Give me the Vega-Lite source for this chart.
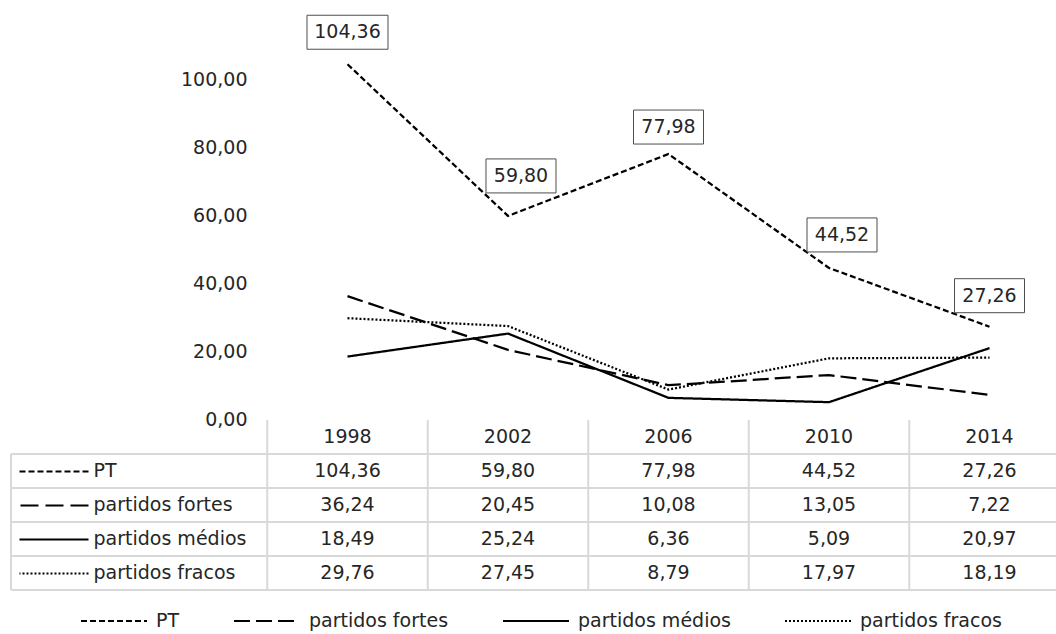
{
  "$schema": "https://vega.github.io/schema/vega-lite/v6.json",
  "padding": {"left": 10, "top": 11, "right": 0, "bottom": 0},
  "bounds": "flush",
  "spacing": 0,
  "config": {
    "locale": {"number": {"decimal": ",", "thousands": ".", "grouping": [3], "currency": ["", ""]}},
    "font": "DejaVu Sans",
    "view": {"stroke": null},
    "text": {"font": "DejaVu Sans", "fontSize": 19, "color": "#262626"},
    "axis": {"labelFont": "DejaVu Sans", "labelFontSize": 19, "labelColor": "#262626"}
  },
  "datasets": {
    "series": [
      {"series": "PT", "year": 1998, "value": 104.36},
      {"series": "PT", "year": 2002, "value": 59.80},
      {"series": "PT", "year": 2006, "value": 77.98},
      {"series": "PT", "year": 2010, "value": 44.52},
      {"series": "PT", "year": 2014, "value": 27.26},
      {"series": "partidos fortes", "year": 1998, "value": 36.24},
      {"series": "partidos fortes", "year": 2002, "value": 20.45},
      {"series": "partidos fortes", "year": 2006, "value": 10.08},
      {"series": "partidos fortes", "year": 2010, "value": 13.05},
      {"series": "partidos fortes", "year": 2014, "value": 7.22},
      {"series": "partidos médios", "year": 1998, "value": 18.49},
      {"series": "partidos médios", "year": 2002, "value": 25.24},
      {"series": "partidos médios", "year": 2006, "value": 6.36},
      {"series": "partidos médios", "year": 2010, "value": 5.09},
      {"series": "partidos médios", "year": 2014, "value": 20.97},
      {"series": "partidos fracos", "year": 1998, "value": 29.76},
      {"series": "partidos fracos", "year": 2002, "value": 27.45},
      {"series": "partidos fracos", "year": 2006, "value": 8.79},
      {"series": "partidos fracos", "year": 2010, "value": 17.97},
      {"series": "partidos fracos", "year": 2014, "value": 18.19}
    ],
    "grid": [{"value": 20}, {"value": 40}, {"value": 60}, {"value": 80}, {"value": 100}],
    "years": [{"year": 1998}, {"year": 2002}, {"year": 2006}, {"year": 2010}, {"year": 2014}],
    "names": [{"series": "PT"}, {"series": "partidos fortes"}, {"series": "partidos médios"}, {"series": "partidos fracos"}],
    "colbounds": [{"year": 1996}, {"year": 2000}, {"year": 2004}, {"year": 2008}, {"year": 2012}]
  },
  "resolve": {"scale": {"strokeDash": "shared"}, "legend": {"strokeDash": "shared"}},
  "vconcat": [
    {
      "width": 1045,
      "height": 408.5,
      "encoding": {
        "x": {"field": "year", "type": "quantitative", "scale": {"domain": [1989.614, 2015.657], "nice": false, "zero": false}, "axis": null},
        "y": {"field": "value", "type": "quantitative", "scale": {"domain": [0, 120], "nice": false},
              "axis": {"values": [0, 20, 40, 60, 80, 100], "format": ".2f", "offset": -256, "labelPadding": 20, "ticks": false, "domain": false, "grid": false, "title": null}}
      },
      "layer": [
        {"data": {"name": "grid"}, "mark": {"type": "rule", "color": "#d9d9d9", "strokeWidth": 1.5},
         "encoding": {"x": {"datum": 1996}, "x2": {"value": "width"}}},
        {"data": {"name": "series"}, "mark": {"type": "line", "color": "black", "strokeWidth": 2.25},
         "encoding": {"strokeDash": {"field": "series", "type": "nominal",
           "scale": {"domain": ["PT", "partidos fortes", "partidos médios", "partidos fracos"], "range": [[6, 3], [16, 6], [1, 0], [2, 2]]},
           "legend": {"orient": "none", "legendX": 69, "legendY": 576, "direction": "horizontal", "title": null, "symbolType": "stroke", "symbolSize": 4356, "symbolStrokeWidth": 2, "symbolStrokeColor": "black", "labelFontSize": 19, "labelFont": "DejaVu Sans", "labelColor": "#262626", "labelOffset": 8, "columnPadding": 50, "labelLimit": 0}}}},
        {"data": {"name": "series"}, "transform": [{"filter": "datum.series === 'PT'"}],
         "mark": {"type": "point", "size": 10000, "filled": true, "fill": "white", "stroke": "#4d4d4d", "strokeWidth": 1, "opacity": 1},
         "encoding": {"shape": {"field": "year", "type": "nominal", "legend": null,
           "scale": {"domain": [1998, 2002, 2006, 2010, 2014],
                     "range": ["M-0.81,-0.98H0.81V-0.3H-0.81Z", "M-0.44,-1.14H0.96V-0.46H-0.44Z", "M-0.7,-0.88H0.7V-0.2H-0.7Z", "M-0.44,-1H0.96V-0.32H-0.44Z", "M-0.7,-0.96H0.7V-0.28H-0.7Z"]}}}},
        {"data": {"name": "series"}, "transform": [{"filter": "datum.series === 'PT' && datum.year === 1998"}],
         "mark": {"type": "text", "align": "center", "baseline": "middle", "dy": -32},
         "encoding": {"text": {"field": "value", "type": "quantitative", "format": ".2f"}}},
        {"data": {"name": "series"}, "transform": [{"filter": "datum.series === 'PT' && datum.year === 2002"}],
         "mark": {"type": "text", "align": "center", "baseline": "middle", "dx": 13, "dy": -40},
         "encoding": {"text": {"field": "value", "type": "quantitative", "format": ".2f"}}},
        {"data": {"name": "series"}, "transform": [{"filter": "datum.series === 'PT' && datum.year === 2006"}],
         "mark": {"type": "text", "align": "center", "baseline": "middle", "dy": -27},
         "encoding": {"text": {"field": "value", "type": "quantitative", "format": ".2f"}}},
        {"data": {"name": "series"}, "transform": [{"filter": "datum.series === 'PT' && datum.year === 2010"}],
         "mark": {"type": "text", "align": "center", "baseline": "middle", "dx": 13, "dy": -33},
         "encoding": {"text": {"field": "value", "type": "quantitative", "format": ".2f"}}},
        {"data": {"name": "series"}, "transform": [{"filter": "datum.series === 'PT' && datum.year === 2014"}],
         "mark": {"type": "text", "align": "center", "baseline": "middle", "dy": -31},
         "encoding": {"text": {"field": "value", "type": "quantitative", "format": ".2f"}}}
      ]
    },
    {
      "width": 1045,
      "height": 170,
      "encoding": {
        "x": {"field": "year", "type": "quantitative", "scale": {"domain": [1989.614, 2015.657], "nice": false, "zero": false}, "axis": null},
        "y": {"field": "series", "type": "nominal", "scale": {"domain": ["header", "PT", "partidos fortes", "partidos médios", "partidos fracos"], "paddingInner": 0, "paddingOuter": 0},
              "axis": {"values": ["PT", "partidos fortes", "partidos médios", "partidos fracos"], "orient": "left", "offset": -77, "title": null, "domain": false, "grid": false,
                       "ticks": true, "tickSize": 69, "tickWidth": 2, "tickColor": "black", "tickCap": "butt",
                       "tickDash": {"expr": "datum.value === 'PT' ? [6, 3] : datum.value === 'partidos fortes' ? [18, 7] : datum.value === 'partidos fracos' ? [2, 2] : [1, 0]"},
                       "labelPadding": -74, "labelAlign": "left", "labelBaseline": "middle", "labelLimit": 0, "labelOverlap": false}}
      },
      "layer": [
        {"data": {"name": "names"}, "mark": {"type": "rule", "color": "#d9d9d9", "strokeWidth": 2},
         "encoding": {"x": {"value": 0}, "x2": {"value": "width"}, "y": {"field": "series", "type": "nominal", "bandPosition": 0}}},
        {"data": {"name": "names"}, "transform": [{"filter": "datum.series === 'PT'"}], "mark": {"type": "rule", "color": "#d9d9d9", "strokeWidth": 2},
         "encoding": {"x": {"datum": 1996}, "x2": {"value": "width"}, "y": {"value": 0}}},
        {"data": {"name": "names"}, "transform": [{"filter": "datum.series === 'PT'"}], "mark": {"type": "rule", "color": "#d9d9d9", "strokeWidth": 2},
         "encoding": {"x": {"value": 0}, "x2": {"value": "width"}, "y": {"value": "height"}}},
        {"data": {"name": "names"}, "transform": [{"filter": "datum.series === 'PT'"}], "mark": {"type": "rule", "color": "#d9d9d9", "strokeWidth": 2},
         "encoding": {"x": {"value": 0}, "y": {"field": "series", "type": "nominal", "bandPosition": 0}, "y2": {"value": "height"}}},
        {"data": {"name": "colbounds"}, "mark": {"type": "rule", "color": "#d9d9d9", "strokeWidth": 2},
         "encoding": {"y": {"value": 0}, "y2": {"value": "height"}}},
        {"data": {"name": "years"}, "mark": {"type": "text", "align": "center", "baseline": "middle"},
         "encoding": {"y": {"datum": "header"}, "text": {"field": "year", "type": "nominal"}}},
        {"data": {"name": "series"}, "mark": {"type": "text", "align": "center", "baseline": "middle"},
         "encoding": {"text": {"field": "value", "type": "quantitative", "format": ".2f"}}}
      ]
    }
  ]
}
